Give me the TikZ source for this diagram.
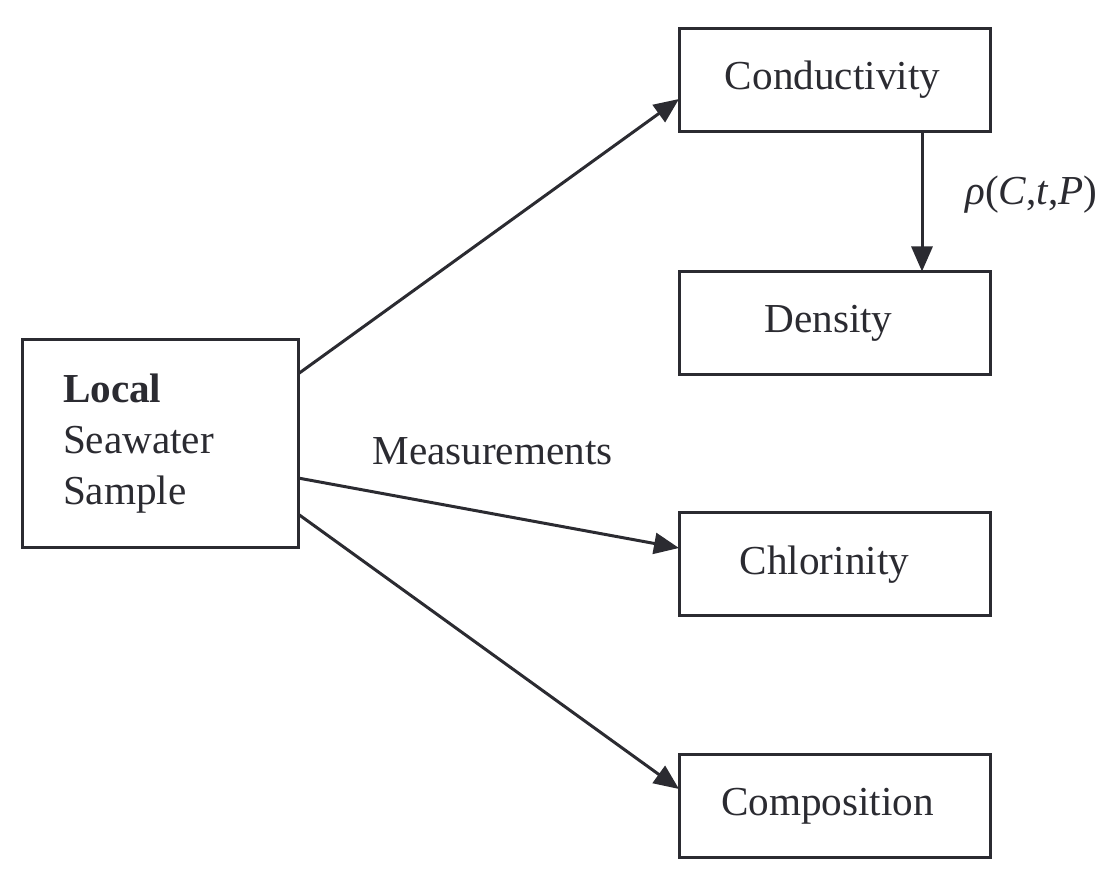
\documentclass[tikz,border=0pt]{standalone}
\usepackage{fontspec}
\setmainfont{Liberation Serif}
\usepackage{tikz}
\usetikzlibrary{arrows.meta}
\usetikzlibrary{calc}

\definecolor{inkgray}{HTML}{2B2B31}

\tikzset{
  box/.style={draw=inkgray, line width=1.5pt, outer sep=0pt, inner sep=0pt,
    minimum width=155.5pt, minimum height=51.5pt, text=inkgray},
  flow/.style={draw=inkgray, line width=1.5pt,
    -{Triangle[length=12.5pt, width=10.5pt]}},
  label/.style={anchor=base west, inner sep=0pt, text=inkgray}
}

\begin{document}
\begin{tikzpicture}[x=0.5pt, y=-0.5pt,
    font=\fontsize{20.6}{25.5}\selectfont]

    \useasboundingbox (0, 0) rectangle (1116, 876);

    \node [box, minimum width=138pt, minimum height=104pt,
      text width=97pt, align=left] (sample) at (160, 444)
      {\textbf{Local}\\Seawater\\Sample};

    % measured quantities, top to bottom (\dx pulls the text a bit left)
    \foreach \name/\y/\dx/\txt in {cond/80/2/Conductivity, dens/323/6/Density,
      chlor/564.5/10/Chlorinity, comp/806.5/7/Composition} {
      \node [box] (\name) at (834.5, \y) {\txt\hspace*{\dx pt}};
    }

    \draw [flow] ($(sample.north east) + (0, 34)$) -- ($(cond.west) + (0, 19)$);
    \draw [flow] ($(sample.east) + (0, 34)$) -- ($(chlor.west) + (0, -16.5)$);
    \draw [flow] ($(sample.east) + (0, 70)$) -- ($(comp.west) + (0, -17.5)$);

    \draw [flow] ($(cond.south) + (87.5, 0)$) -- ($(dens.north) + (87.5, 0)$);

    \node [label] (meas) at (372, 465) {Measurements};
    \node [label] (rho) at (965, 205)
      {\textit{ρ}(\textit{C},\textit{t},\textit{P})};

  \end{tikzpicture}
\end{document}
